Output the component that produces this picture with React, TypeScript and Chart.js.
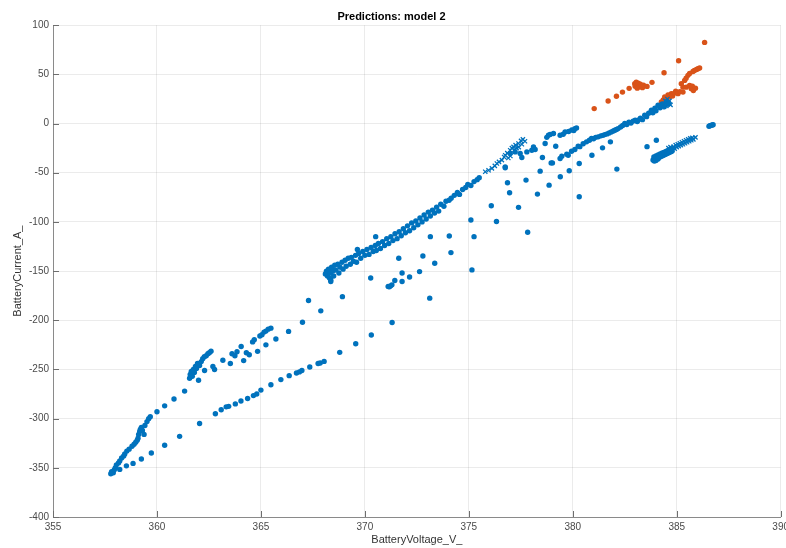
import React, { useEffect, useRef } from "react";
import { Chart, registerables } from "chart.js";

Chart.register(...registerables);

// [BatteryVoltage_V_, BatteryCurrent_A_]
const blueDots: [number, number][] = [
  // lower-left, upper branch
  [357.78, -356], [357.82, -354], [357.9, -355], [357.95, -352], [358.0, -350], [358.05, -347], [358.15, -345],
  [358.21, -343], [358.3, -340], [358.4, -338], [358.45, -336], [358.55, -333], [358.66, -331], [358.8, -328],
  [358.9, -326], [358.98, -324], [359.05, -322], [359.09, -320], [359.12, -316], [359.17, -313], [359.2, -311],
  [359.25, -309], [359.3, -312], [359.38, -316], [359.42, -307], [359.52, -303], [359.6, -300], [359.68, -298],
  [360.0, -293], [360.37, -287], [360.82, -280], [361.33, -272], [361.57, -259], [361.6, -255], [361.65, -252],
  [361.7, -257], [361.75, -250], [361.8, -253], [361.85, -247], [361.9, -249], [361.95, -244], [362.0, -261],
  [362.05, -246], [362.13, -242], [362.2, -239], [362.28, -237], [362.37, -236], [362.45, -234], [362.52, -233],
  [362.6, -231.5],
  // shoulder
  [362.29, -251], [362.69, -247], [362.77, -250], [363.17, -240.7], [363.53, -244], [363.61, -234], [363.75, -236],
  [363.85, -232], [364.05, -226.6], [364.17, -241], [364.3, -233], [364.44, -235], [364.6, -222], [364.68, -219.8],
  [364.84, -231.6], [364.95, -216], [365.05, -214.7], [365.15, -212], [365.24, -211], [365.35, -209], [365.48, -208],
  [365.24, -225], [365.72, -219], [366.33, -211.3], [367.0, -202], [367.29, -179.9], [367.88, -190.4],
  [368.36, -160.6], [368.92, -176],
  // lower branch
  [358.21, -351.6], [358.53, -348], [358.85, -345.5], [359.25, -341], [359.73, -335], [360.37, -327], [361.09, -318],
  [362.05, -305], [362.81, -295], [363.09, -291], [363.33, -288], [363.45, -287.5], [363.77, -285], [364.04, -282],
  [364.36, -279.6], [364.64, -276.6], [364.8, -275], [365.0, -271], [365.48, -265.6], [365.96, -260.3],
  [366.36, -256.3], [366.71, -253.6], [366.85, -252.5], [366.97, -251], [367.35, -247.5], [367.75, -244],
  [367.85, -243.4], [368.04, -241.8], [368.79, -232.6], [369.56, -223.8], [370.31, -215], [371.31, -202.2],
  [373.12, -177.5], [375.15, -148.8],
  // middle scatter
  [370.28, -157], [371.63, -137], [371.79, -152], [371.24, -165], [371.12, -165.7], [371.18, -166], [371.3, -164],
  [371.44, -159.6], [371.79, -160.6], [372.15, -156], [372.63, -150.5], [372.79, -134.6], [373.36, -142],
  [373.15, -115], [374.06, -114.3], [374.14, -131.2], [375.1, -98], [375.25, -115], [376.08, -83.5], [376.33, -99.5],
  [376.75, -45], [376.86, -60.2], [376.96, -70.4], [377.39, -85.2], [377.75, -57.5], [377.83, -110.5], [378.3, -71.7],
  [378.43, -48.4], [378.86, -62.6], [379.02, -40], [379.4, -54.1], [379.83, -48], [380.31, -74.4], [380.31, -40.6],
  [382.12, -46.3], [378.54, -34.5], [378.96, -40], [379.47, -33.2], [379.39, -35.5], [379.71, -31.1],
  [370.52, -115], [369.64, -128], [368.36, -159],
  // main band
  [368.1, -153], [368.15, -150], [368.2, -155], [368.25, -148], [368.3, -157], [368.35, -152], [368.4, -146],
  [368.45, -150], [368.5, -155], [368.55, -144], [368.6, -149], [368.7, -143], [368.75, -152], [368.8, -146],
  [368.9, -141], [368.95, -148], [369.05, -139], [369.1, -145], [369.2, -137], [369.3, -143], [369.35, -136],
  [369.45, -140], [369.55, -134], [369.6, -141], [369.7, -132], [369.8, -137], [369.9, -130], [370.0, -134],
  [370.1, -128], [370.2, -133], [370.3, -126], [370.4, -130], [370.5, -124], [370.55, -129], [370.65, -122],
  [370.75, -127], [370.85, -120], [370.95, -124], [371.05, -117], [371.15, -122], [371.25, -115], [371.35, -119],
  [371.45, -112], [371.55, -117], [371.65, -110], [371.75, -114], [371.85, -107], [371.95, -111], [372.05, -104],
  [372.15, -109], [372.25, -101], [372.35, -106], [372.45, -99], [372.55, -103], [372.65, -96], [372.75, -100],
  [372.85, -93], [372.95, -97], [373.05, -90], [373.15, -94], [373.25, -88], [373.35, -91], [373.45, -85],
  [373.55, -89], [373.65, -82], [373.8, -84], [373.9, -79], [374.05, -78], [374.15, -76], [374.3, -73],
  [374.45, -70], [374.55, -72], [374.7, -67], [374.85, -65], [374.95, -62], [375.1, -63], [375.25, -59],
  [375.4, -57], [375.5, -55],
  // upper-left group near crosses
  [377.23, -28.8], [377.47, -30.4], [377.55, -34.5], [377.79, -28.8], [378.03, -27.1], [378.11, -23.7],
  [376.75, -44], [376.99, -30.4], [378.19, -26.4], [378.67, -20.3], [378.83, -11.9], [378.91, -11], [379.07, -10.1],
  [379.18, -23], [379.39, -11.9], [379.54, -10.9], [379.63, -8.5], [379.8, -8], [379.95, -6.5], [380.1, -5.1],
  [380.18, -4.5], [380.05, -7], [378.75, -14],
  // lower-right branch
  [379.78, -32.2], [379.94, -28.1], [380.1, -26.4], [380.26, -23], [380.34, -23.5], [380.5, -20.5], [380.66, -18.6],
  [380.8, -17], [380.9, -15.2], [381.0, -15.5], [381.1, -14], [381.22, -13.5], [381.35, -12.5], [381.45, -12],
  [381.54, -11.2], [381.65, -10.5], [381.75, -9.5], [381.85, -8.5], [381.95, -7.5], [382.02, -6.8], [382.1, -6],
  [382.18, -5.1], [382.3, -3.5], [382.4, -2], [382.5, 0], [382.6, -1], [382.7, 1.5], [382.8, 0.5], [382.9, 2.5],
  [383.0, 3.3], [383.1, 2], [383.14, 3.3], [383.25, 5.5], [383.35, 4], [383.46, 8.4], [383.55, 7], [383.65, 10.5],
  [383.78, 13.5], [383.85, 11], [383.95, 15.5], [384.0, 13], [384.1, 18.6], [384.2, 16], [384.3, 20], [384.4, 17],
  [384.5, 22], [384.6, 20],
  [380.92, -32.2], [381.43, -24.7], [381.81, -18.6], [383.57, -23.5], [384.02, -17],
  // lower-right cluster
  [383.86, -37], [383.9, -34], [383.95, -36.5], [384.0, -33], [384.05, -35.5], [384.1, -32], [384.15, -34.5],
  [384.2, -31], [384.25, -33.5], [384.3, -30], [384.35, -32.5], [384.4, -29], [384.45, -31.5], [384.5, -28],
  [384.55, -30.5], [384.6, -27], [384.65, -29.5], [384.7, -26.5], [384.75, -28.5], [384.8, -25.5], [383.92, -38],
  [384.0, -37.5], [384.1, -36],
  // far right
  [386.55, -2.8], [386.6, -2.2], [386.65, -1.8], [386.7, -1.5], [386.75, -1.2],
];

const blueCrosses: [number, number][] = [
  [375.79, -49], [375.95, -47.5], [376.11, -45.6], [376.25, -43], [376.35, -40.6], [376.45, -39], [376.59, -37.2],
  [376.7, -34], [376.75, -32.2], [376.85, -30], [376.99, -27.1], [377.07, -25], [377.15, -23.7], [377.25, -22],
  [377.39, -20.3], [377.51, -17.6], [377.6, -16], [377.7, -18], [377.0, -33], [377.2, -27], [377.3, -25],
  [376.9, -35], [377.4, -24], [377.55, -21],
  [384.3, 17], [384.4, 19], [384.45, 23], [384.5, 18], [384.55, 25], [384.6, 21], [384.65, 23], [384.7, 19],
  [384.6, -25], [384.7, -24], [384.8, -27], [384.85, -23.5], [384.9, -25.5], [384.95, -22], [385.0, -24],
  [385.05, -21], [385.1, -23], [385.15, -20], [385.2, -22], [385.25, -19], [385.3, -21], [385.35, -18],
  [385.4, -20], [385.45, -17], [385.5, -19], [385.55, -16], [385.6, -18], [385.65, -15], [385.7, -17],
  [385.75, -14.5], [385.8, -16], [385.9, -14],
];

const orangeDots: [number, number][] = [
  [381.03, 15.2], [381.7, 23], [382.1, 27.7], [382.39, 32], [382.71, 35.8], [382.98, 40.6], [383.0, 38],
  [383.05, 42], [383.1, 39], [383.15, 41], [383.2, 37.5], [383.25, 40], [383.3, 38.5], [383.35, 36.5], [383.4, 39],
  [383.1, 36], [383.57, 37.8], [383.81, 41.9], [384.39, 51.7], [385.09, 63.9], [386.34, 82.5],
  [384.26, 21.9], [384.35, 24], [384.42, 27], [384.5, 25], [384.58, 29], [384.65, 27], [384.74, 30.4], [384.8, 28],
  [384.9, 31], [384.95, 33], [385.06, 30.4], [385.15, 32.5], [385.22, 40.6], [385.3, 32], [385.3, 37],
  [385.38, 43.9], [385.45, 46], [385.54, 49], [385.62, 51], [385.46, 37], [385.62, 38.8], [385.7, 35.5],
  [385.75, 38], [385.78, 53], [385.85, 54], [385.9, 36], [385.95, 55], [386.02, 55.7], [386.1, 56.5], [385.8, 33.5],
];

const xTicks = [355, 360, 365, 370, 375, 380, 385, 390];
const yTicks = [-400, -350, -300, -250, -200, -150, -100, -50, 0, 50, 100];

const FONT = "'Liberation Sans', Arial, Helvetica, sans-serif";
const BLUE = "#0072BD";
const ORANGE = "#D95319";

const toPts = (arr: [number, number][]) => arr.map(([x, y]) => ({ x, y }));

const innerTicks = {
  id: "innerTicks",
  afterDraw(chart: any) {
    const { ctx, chartArea, scales } = chart;
    ctx.save();
    ctx.strokeStyle = "#6e6e6e";
    ctx.lineWidth = 1;
    ctx.beginPath();
    for (const v of yTicks) {
      const py = Math.round(scales.y.getPixelForValue(v)) + 0.5;
      ctx.moveTo(chartArea.left, py);
      ctx.lineTo(chartArea.left + 6, py);
    }
    for (const v of xTicks) {
      const px = Math.round(scales.x.getPixelForValue(v)) + 0.5;
      ctx.moveTo(px, chartArea.bottom);
      ctx.lineTo(px, chartArea.bottom - 6);
    }
    ctx.stroke();
    ctx.restore();
  },
};

export default function App() {
  const ref = useRef<HTMLCanvasElement | null>(null);
  useEffect(() => {
    document.body.style.margin = "0";
    const canvas = ref.current;
    if (!canvas) return;
    const chart = new Chart(canvas, {
      type: "scatter",
      data: {
        datasets: [
          {
            label: "blue",
            data: toPts(blueDots),
            pointStyle: "circle",
            pointRadius: 2.7,
            pointBorderWidth: 0,
            backgroundColor: BLUE,
            borderColor: BLUE,
          },
          {
            label: "cross",
            data: toPts(blueCrosses),
            pointStyle: "crossRot",
            pointRadius: 3,
            pointBorderWidth: 1.3,
            backgroundColor: BLUE,
            borderColor: BLUE,
          },
          {
            label: "orange",
            data: toPts(orangeDots),
            pointStyle: "circle",
            pointRadius: 2.7,
            pointBorderWidth: 0,
            backgroundColor: ORANGE,
            borderColor: ORANGE,
          },
        ],
      },
      options: {
        responsive: false,
        animation: false,
        devicePixelRatio: 1,
        layout: { padding: { top: 0, right: 3, left: 0, bottom: 0 } },
        plugins: {
          legend: { display: false },
          tooltip: { enabled: false },
          title: {
            display: true,
            text: "Predictions: model 2",
            color: "#000",
            font: { family: FONT, size: 11, weight: "bold" },
            padding: { top: 10, bottom: 2 },
          },
        },
        scales: {
          x: {
            type: "linear",
            min: 355,
            max: 390,
            afterBuildTicks: (s: any) => {
              s.ticks = xTicks.map((v) => ({ value: v }));
            },
            afterFit: (s: any) => {
              s.height = 31;
              s.paddingLeft = 0;
              s.paddingRight = 0;
            },
            ticks: {
              color: "#4a4a4a",
              font: { family: FONT, size: 10 },
              padding: 4,
              maxRotation: 0,
              autoSkip: false,
            },
            grid: { color: "rgba(0,0,0,0.08)", drawTicks: false },
            border: { color: "#8a8a8a" },
            title: {
              display: true,
              text: "BatteryVoltage_V_",
              color: "#333",
              font: { family: FONT, size: 11 },
              padding: { top: 0, bottom: 1 },
            },
          },
          y: {
            type: "linear",
            min: -400,
            max: 100,
            afterBuildTicks: (s: any) => {
              s.ticks = yTicks.map((v) => ({ value: v }));
            },
            afterFit: (s: any) => {
              s.width = 53;
              s.paddingTop = 0;
              s.paddingBottom = 0;
            },
            ticks: {
              color: "#4a4a4a",
              font: { family: FONT, size: 10 },
              padding: 4,
              autoSkip: false,
            },
            grid: { color: "rgba(0,0,0,0.08)", drawTicks: false },
            border: { color: "#8a8a8a" },
            title: {
              display: true,
              text: "BatteryCurrent_A_",
              color: "#333",
              font: { family: FONT, size: 11 },
              padding: { top: 11, bottom: 0 },
            },
          },
        },
      },
      plugins: [innerTicks],
    });
    return () => chart.destroy();
  }, []);
  return (
    <div style={{ width: 786, height: 548, background: "#fff" }}>
      <canvas ref={ref} width={786} height={548} style={{ display: "block" }} />
    </div>
  );
}
